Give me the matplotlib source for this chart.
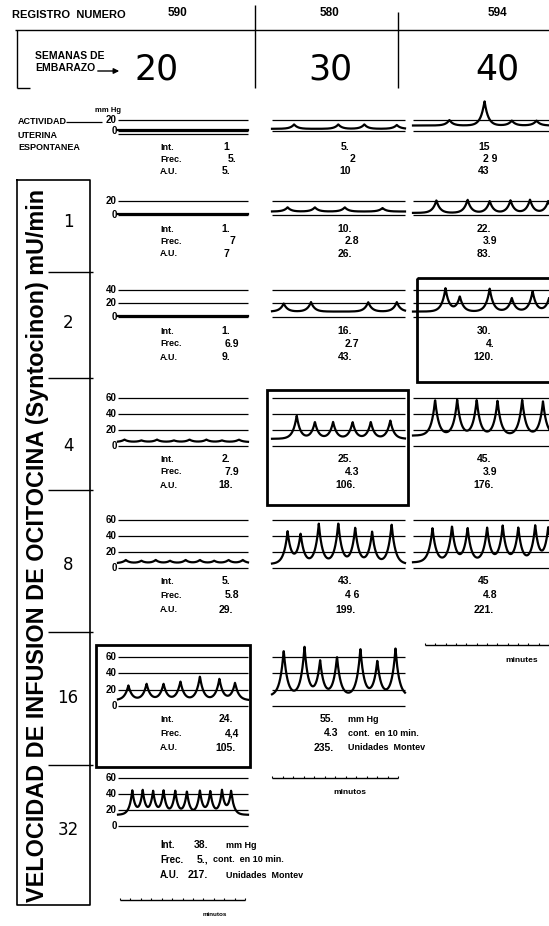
import numpy as np
import matplotlib.pyplot as plt
from matplotlib.patches import Rectangle

plt.rcParams["font.family"] = ["Liberation Sans", "DejaVu Sans"]
plt.rcParams["font.weight"] = "bold"

# ---- data ----
registro = ["590", "580", "594"]
semanas = ["20", "30", "40"]
rates = ["1", "2", "4", "8", "16", "32"]
units = ["mm Hg", "cont.  en 10 min.", "Unidades  Montev"]

# Int. / Frec. / A.U. per column (first entry = spontaneous activity)
int_20 = ["1", "1.", "1.", "2.", "5.", "24.", "38."]
frec_20 = ["5.", "7", "6.9", "7.9", "5.8", "4,4", "5.,"]
au_20 = ["5.", "7", "9.", "18.", "29.", "105.", "217."]
int_30 = ["5.", "10.", "16.", "25.", "43.", "55."]
frec_30 = ["2", "2.8", "2.7", "4.3", "4 6", "4.3"]
au_30 = ["10", "26.", "43.", "106.", "199.", "235."]
int_40 = ["15", "22.", "30.", "45.", "45"]
frec_40 = ["2 9", "3.9", "4.", "3.9", "4.8"]
au_40 = ["43", "83.", "120.", "176.", "221."]

# pressure traces: basal tone (mmHg), contraction times (min), peak pressure (mmHg)
tone_20 = [1, 1, 2, 5, 6, 7, 14]
times_20 = [[], [], [],
            [0.5, 1.8, 3.0, 4.3, 5.5, 6.8, 8.0, 9.3],
            [0.6, 1.8, 2.9, 4.0, 5.2, 6.3, 7.4, 8.5, 9.6],
            [0.8, 2.2, 3.5, 4.8, 6.3, 7.8, 9.0],
            [1.1, 1.9, 2.7, 3.5, 4.4, 5.3, 6.3, 7.1, 8.0, 8.7]]
peaks_20 = [[], [], [],
            [8, 7, 8, 7, 8, 8, 7, 8],
            [10, 9, 10, 9, 10, 10, 9, 10, 10],
            [25, 27, 27, 30, 36, 33, 28],
            [44, 44, 43, 44, 44, 43, 44, 43, 44, 43]]

tone_30 = [4, 5, 8, 9, 5, 12]
times_30 = [[1.7, 5.1, 7.1, 9.6],
            [1.2, 3.3, 5.6, 8.5],
            [0.9, 3.0, 7.4, 9.6],
            [1.9, 3.3, 4.7, 6.2, 7.6, 9.1],
            [1.2, 2.2, 3.6, 5.1, 6.4, 7.7, 9.2],
            [0.9, 2.5, 3.7, 5.0, 6.8, 8.1, 9.5]]
peaks_30 = [[12, 12, 12, 11],
            [11, 11, 11, 10],
            [20, 22, 22, 22],
            [38, 30, 30, 30, 30, 32],
            [45, 42, 55, 56, 50, 45, 55],
            [68, 72, 55, 60, 70, 55, 70]]

tone_40 = [10, 3, 8, 13, 7]
times_40 = [[2.8, 5.5, 7.6, 9.5],
            [1.8, 4.2, 5.9, 7.5, 9.0, 10.4],
            [2.5, 3.6, 5.9, 7.6, 9.2, 10.5],
            [1.7, 3.4, 4.9, 6.5, 8.4, 10.0],
            [1.5, 3.0, 4.2, 5.7, 6.9, 8.1, 9.4, 10.4]]
peaks_40 = [[20, 55, 19, 19],
            [21, 22, 20, 21, 22, 20],
            [42, 30, 42, 28, 38, 30],
            [58, 58, 58, 57, 58, 56],
            [50, 52, 50, 50, 52, 50, 52, 50]]

grid_levels = [[0, 20], [0, 20], [0, 20, 40], [0, 20, 40, 60],
               [0, 20, 40, 60], [0, 20, 40, 60], [0, 20, 40, 60]]

# ---- layout (pixels) ----
W, H = 549, 926
row_y0 = [131, 215, 317, 446, 568, 706, 826]      # 0 mmHg line
row_scale = [0.55, 0.7, 0.68, 0.8, 0.8, 0.82, 0.8]  # px per mmHg
val_y = [147, 229, 331, 459, 581, 719, 845]
val_dy = [12, 12.5, 13, 13, 14.5, 14.5, 15]
col_x = [(118, 248), (272, 405), (413, 549)]
PX_MIN = 13.0
row_div = [272, 378, 490, 632, 765]
rate_y = [222, 323, 446, 565, 698, 830]

fig = plt.figure(figsize=(W / 100, H / 100), dpi=100)
ax = fig.add_axes([0, 0, 1, 1])
ax.set_xlim(0, W)
ax.set_ylim(H, 0)
ax.axis("off")

K = "black"


def hline(x0, x1, y, lw=0.9):
    ax.plot([x0, x1], [y, y], color=K, lw=lw, solid_capstyle="butt")


def vline(x, y0, y1, lw=0.9):
    ax.plot([x, x], [y0, y1], color=K, lw=lw, solid_capstyle="butt")


def trace(col, row, tone, times, peaks, w=0.28):
    x0, x1 = col_x[col]
    t = np.linspace(0, (x1 - x0) / PX_MIN, 700)
    p = np.full_like(t, float(tone))
    for tc, pk in zip(times, peaks):
        p += (pk - tone) * np.exp(-np.abs(t - tc) / w)
    ax.plot(x0 + t * PX_MIN, row_y0[row] - p * row_scale[row], color=K, lw=1.6)


def grid(col, row, labels=False):
    x0, x1 = col_x[col]
    for lv in grid_levels[row]:
        y = row_y0[row] - lv * row_scale[row]
        hline(x0, x1, y)
        if labels:
            ax.text(x0 - 1, y, str(lv), ha="right", va="center", fontsize=7)


def values(col, row, vals, xc, dx=6):
    y, dy = val_y[row], val_dy[row]
    for k, v in enumerate(vals):
        if col == 0:
            ax.text(160, y + dy * k, ["Int.", "Frec.", "A.U."][k], ha="left",
                    va="center", fontsize=6.5)
        ax.text(xc + (dx if k == 1 else 0), y + dy * k, v, ha="center",
                va="center", fontsize=7.5)


def scale_bar(x0, x1, y, label, lx, ly, fs=6):
    hline(x0, x1, y, lw=1.0)
    for xt in np.linspace(x0, x1, 13):
        vline(xt, y, y - 2.5, lw=0.8)
    ax.text(lx, ly, label, ha="center", va="center", fontsize=fs)


# ---- header ----
ax.text(12, 15, "REGISTRO  NUMERO", fontsize=8, va="center", ha="left")
for xc, r in zip([178, 330, 497], registro):
    ax.text(xc, 13, r, fontsize=8.5, va="center", ha="center")
hline(15, W, 30, lw=1.0)
vline(255, 5, 88, lw=1.0)
vline(398, 12, 88, lw=1.0)
vline(17, 30, 88, lw=1.0)
hline(17, 30, 88, lw=1.0)
ax.text(35, 56, "SEMANAS DE", fontsize=7.5, va="center")
ax.text(35, 68, "EMBARAZO", fontsize=7.5, va="center")
ax.annotate("", xy=(122, 71), xytext=(95, 71),
            arrowprops=dict(arrowstyle="-|>", color=K, lw=1.0, mutation_scale=8))
for xc, s in zip([157, 330, 497], semanas):
    ax.text(xc, 70, s, fontsize=25, va="center", ha="center", fontweight="normal",
            family="DejaVu Sans")

# ---- spontaneous activity ----
ax.text(18, 122, "ACTIVIDAD", fontsize=6.5, va="center")
hline(66, 102, 122)
ax.text(18, 135, "UTERINA", fontsize=6.5, va="center")
ax.text(18, 147, "ESPONTANEA", fontsize=6.5, va="center")
ax.text(108, 111, "mm Hg", fontsize=5.5, va="center", ha="center")

# ---- left rate column ----
ax.plot([17, 90, 90, 17, 17], [180, 180, 905, 905, 180], color=K, lw=1.2)
for y in row_div:
    hline(48, 93, y, lw=1.0)
for y, r in zip(rate_y, rates):
    ax.text(68, y, r, fontsize=12, va="center", ha="center", fontweight="normal",
            family="DejaVu Sans")
ax.text(38, 545, "VELOCIDAD DE INFUSION DE OCITOCINA (Syntocinon) mU/min",
        rotation=90, fontsize=16.8, va="center", ha="center")

# ---- 20 weeks column ----
for r in range(7):
    grid(0, r, labels=True)
    trace(0, r, tone_20[r], times_20[r], peaks_20[r], w=0.22 if r == 6 else 0.28)
    if r < 6:
        values(0, r, [int_20[r], frec_20[r], au_20[r]], 226)
hline(118, 248, row_y0[0] + 3)

# ---- 30 weeks column ----
for r in range(6):
    grid(1, r)
    trace(1, r, tone_30[r], times_30[r], peaks_30[r])
    if r < 5:
        values(1, r, [int_30[r], frec_30[r], au_30[r]], 345, dx=7)

# ---- 40 weeks column ----
for r in range(5):
    grid(2, r)
    trace(2, r, tone_40[r], times_40[r], peaks_40[r])
    values(2, r, [int_40[r], frec_40[r], au_40[r]], 484, dx=6)

# values with units (16 mU at 30 wk, 32 mU at 20 wk)
y, dy = val_y[5], val_dy[5]
for k, (v, u) in enumerate(zip([int_30[5], frec_30[5], au_30[5]], units)):
    ax.text(334 if k != 1 else 338, y + dy * k, v, ha="right", va="center", fontsize=7.5)
    ax.text(348, y + dy * k, u, ha="left", va="center", fontsize=6.5)
y, dy = val_y[6], val_dy[6]
for k, (lab, v, u) in enumerate(zip(["Int.", "Frec.", "A.U."],
                                    [int_20[6], frec_20[6], au_20[6]], units)):
    ax.text(160, y + dy * k, lab, ha="left", va="center", fontsize=7)
    ax.text(208, y + dy * k, v, ha="right", va="center", fontsize=7.5)
    ax.text(226 if k != 1 else 213, y + dy * k, u, ha="left", va="center", fontsize=6.5)

# highlighted panels
for (x0, y0, x1, y1) in [(417, 278, 552, 382), (267, 390, 408, 505), (96, 645, 250, 767)]:
    ax.add_patch(Rectangle((x0, y0), x1 - x0, y1 - y0, fill=False, ec=K, lw=2.0))

# scale bars
scale_bar(425, 549, 645, "minutes", 522, 660)
scale_bar(272, 398, 778, "minutos", 350, 793)
scale_bar(120, 245, 900, "minutos", 215, 915, fs=4.5)

fig.savefig("out.png", dpi=100)
